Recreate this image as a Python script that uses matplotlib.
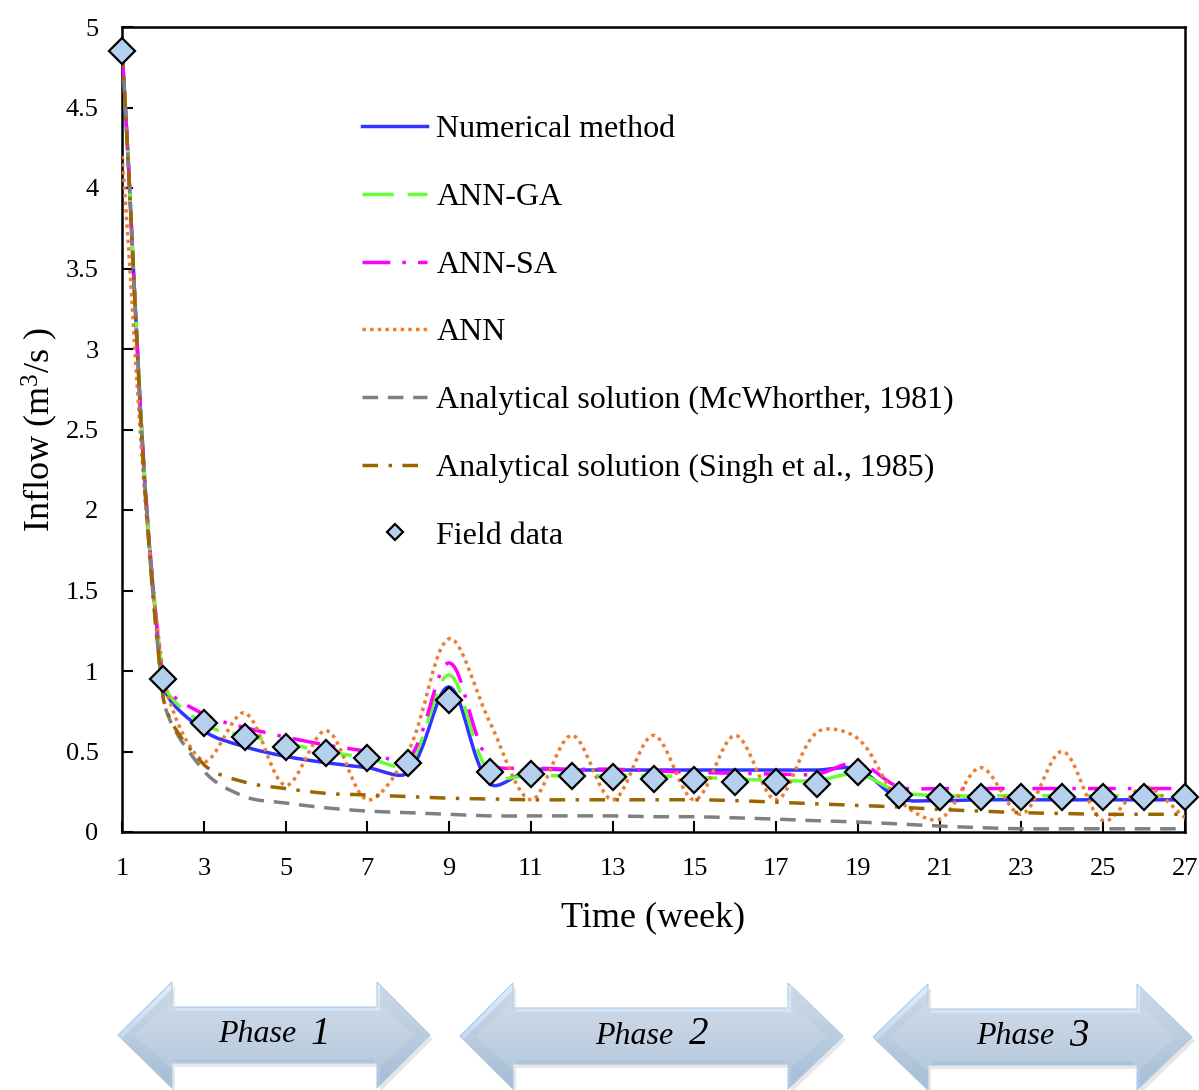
import numpy as np
import matplotlib.pyplot as plt
from matplotlib.path import Path
from matplotlib.patches import PathPatch, Polygon
from matplotlib.lines import Line2D

# weekly values
weeks = list(range(1, 28))

field_data = [4.85, 0.95, 0.68, 0.59, 0.53, 0.49, 0.46, 0.43, 0.82, 0.37, 0.36, 0.35, 0.34, 0.33,
              0.32, 0.31, 0.31, 0.30, 0.37, 0.23, 0.22, 0.22, 0.22, 0.22, 0.22, 0.22, 0.22]
numerical = [4.85, 0.93, 0.63, 0.53, 0.47, 0.43, 0.40, 0.37, 0.90, 0.30, 0.385, 0.385, 0.385, 0.385,
             0.385, 0.385, 0.385, 0.385, 0.39, 0.21, 0.195, 0.20, 0.20, 0.20, 0.20, 0.20, 0.20]
ann_ga = [4.85, 0.95, 0.67, 0.60, 0.55, 0.50, 0.46, 0.42, 0.975, 0.36, 0.35, 0.35, 0.35, 0.35,
          0.34, 0.33, 0.32, 0.32, 0.36, 0.25, 0.225, 0.225, 0.225, 0.225, 0.225, 0.225, 0.225]
ann_sa = [4.85, 0.95, 0.73, 0.65, 0.59, 0.54, 0.50, 0.45, 1.05, 0.43, 0.40, 0.39, 0.39, 0.38,
          0.37, 0.365, 0.36, 0.36, 0.43, 0.28, 0.27, 0.27, 0.27, 0.27, 0.27, 0.27, 0.27]
ann = [4.2, 1.0, 0.44, 0.74, 0.29, 0.63, 0.20, 0.50, 1.20, 0.68, 0.20, 0.60, 0.20, 0.60,
       0.20, 0.60, 0.20, 0.62, 0.58, 0.20, 0.08, 0.40, 0.11, 0.50, 0.07, 0.28, 0.09]
mcwhorther = [4.85, 0.85, 0.38, 0.22, 0.18, 0.15, 0.13, 0.12, 0.11, 0.10, 0.10, 0.10, 0.10, 0.095,
              0.095, 0.088, 0.08, 0.07, 0.062, 0.05, 0.037, 0.027, 0.02, 0.02, 0.02, 0.02, 0.02]
singh = [4.85, 0.85, 0.42, 0.31, 0.27, 0.24, 0.23, 0.22, 0.21, 0.205, 0.20, 0.20, 0.20, 0.20,
         0.20, 0.195, 0.185, 0.175, 0.165, 0.155, 0.14, 0.13, 0.12, 0.115, 0.11, 0.11, 0.11]

labels = ['Numerical method', 'ANN-GA', 'ANN-SA', 'ANN',
          'Analytical solution (McWhorther, 1981)',
          'Analytical solution (Singh et al., 1985)', 'Field data']
phase_names = ['1', '2', '3']

plt.rcParams['font.family'] = ['Liberation Serif', 'DejaVu Serif']
plt.rcParams['mathtext.fontset'] = 'custom'
plt.rcParams['mathtext.rm'] = 'Liberation Serif'
plt.rcParams['mathtext.it'] = 'Liberation Serif:italic'

W, H = 1199, 1090
fig = plt.figure(figsize=(W / 100, H / 100), dpi=100)
ax = fig.add_axes([122 / W, 1 - 832 / H, (1185 - 122) / W, (832 - 27) / H])
ax.set_xlim(1, 27)
ax.set_ylim(0, 5)


def smooth_path(xs, ys, f=1 / 3):
    # excel-like smoothed line, control points computed in screen space
    pts = ax.transData.transform(np.column_stack([xs, ys]))
    n = len(pts)
    verts = [pts[0]]
    codes = [Path.MOVETO]
    for i in range(n - 1):
        p0 = pts[max(i - 1, 0)]
        p1 = pts[i]
        p2 = pts[i + 1]
        p3 = pts[min(i + 2, n - 1)]
        d01 = np.hypot(*(p1 - p0))
        d12 = np.hypot(*(p2 - p1))
        d23 = np.hypot(*(p3 - p2))
        w1 = d12 / (d01 + d12) if d01 > 0 else 1.0
        w2 = d12 / (d12 + d23) if d23 > 0 else 1.0
        c1 = p1 + (p2 - p0) * f * w1
        c2 = p2 - (p3 - p1) * f * w2
        verts += [c1, c2, p2]
        codes += [Path.CURVE4] * 3
    verts = ax.transData.inverted().transform(np.array(verts))
    return Path(verts, codes)


LW = 2.5
styles = [
    ('#3333ff', '-'),
    ('#66ff33', (0, (9, 4))),
    ('#ff00ff', (0, (8, 3.5, 1, 3.5))),
    ('#ed7d31', (0, (1, 1.2))),
    ('#808080', (0, (4.5, 2.8))),
    ('#9c6500', (0, (4.5, 3, 1, 3))),
]
series = [numerical, ann_ga, ann_sa, ann, mcwhorther, singh]

handles = []
for k, (vals, (col, ls)) in enumerate(zip(series, styles)):
    patch = PathPatch(smooth_path(weeks, vals), fill=False, edgecolor=col, lw=LW,
                      linestyle=ls, zorder=3 + k * 0.1)
    ax.add_patch(patch)
    handles.append(Line2D([], [], color=col, lw=LW, linestyle=ls))

ax.plot(weeks, field_data, 'D', ms=13, mfc='#b4d0ec', mec='black', mew=1.6,
        clip_on=False, zorder=10)
handles.append(Line2D([], [], ls='none', marker='D', ms=13, mfc='#b4d0ec',
                      mec='black', mew=1.6))

ax.set_xticks(range(1, 28, 2))
ax.set_yticks(np.arange(0, 5.01, 0.5))
ax.set_yticklabels(['{:g}'.format(v) for v in np.arange(0, 5.01, 0.5)])
ax.tick_params(direction='in', length=8, width=1.5, labelsize=19)
ax.tick_params(axis='x', pad=19)
ax.tick_params(axis='y', pad=17)
for s in ax.spines.values():
    s.set_linewidth(1.8)

ax.set_xlabel('Time (week)', fontsize=26, labelpad=15)
ax.set_ylabel('Inflow (m$^{3}$/s )', fontsize=26, labelpad=4)

ax.legend(handles, labels, loc='upper left', frameon=False, fontsize=23,
          bbox_to_anchor=(362 / W, 1 - 115 / H), bbox_transform=fig.transFigure,
          borderaxespad=0, borderpad=0, handlelength=2.05, handletextpad=0.28,
          labelspacing=1.2, markerscale=0.66)

# phase arrows below the chart, drawn in pixel space
ov = fig.add_axes([0, 0, 1, 1], zorder=5)
ov.set_xlim(0, W)
ov.set_ylim(H, 0)
ov.axis('off')
ov.patch.set_alpha(0)

arrows = [
    (118, 172, 377, 430, 1035),
    (460, 513, 788, 843, 1036),
    (873, 928, 1137, 1192, 1037),
]
grad = np.linspace(0, 1, 256)[:, None]
top_c = np.array([0.88, 0.93, 0.99])
mid_c = np.array([0.77, 0.86, 0.96])
bot_c = np.array([0.65, 0.78, 0.91])
rgb = np.where(grad[..., None] < 0.5,
               top_c + (mid_c - top_c) * (grad[..., None] / 0.5),
               mid_c + (bot_c - mid_c) * ((grad[..., None] - 0.5) / 0.5))
rgb = np.repeat(rgb, 2, axis=1)

for (tl, bl, br, tr, yc), name in zip(arrows, phase_names):
    hh, sh = 53, 28
    pts = [(tl, yc), (bl, yc - hh), (bl, yc - sh), (br, yc - sh), (br, yc - hh),
           (tr, yc), (br, yc + hh), (br, yc + sh), (bl, yc + sh), (bl, yc + hh)]
    shadow = Polygon([(x + 3, y + 4) for x, y in pts], closed=True, fc='#a0a0a0',
                     ec='none', alpha=0.25)
    ov.add_patch(shadow)
    poly = Polygon(pts, closed=True, fc='none', ec='#b0cae3', lw=0.8)
    ov.add_patch(poly)
    im = ov.imshow(rgb, extent=(tl, tr, yc + hh, yc - hh), origin='upper',
                   aspect='auto', interpolation='bilinear')
    im.set_clip_path(poly)
    # bevel on the arrow heads
    ins = 10
    inner = [(tl + ins * 1.6, yc), (bl + ins * 0.3, yc - hh + ins * 1.6), (bl + ins * 0.3, yc - sh + 4),
             (br - ins * 0.3, yc - sh + 4), (br - ins * 0.3, yc - hh + ins * 1.6),
             (tr - ins * 1.6, yc), (br - ins * 0.3, yc + hh - ins * 1.6), (br - ins * 0.3, yc + sh - 4),
             (bl + ins * 0.3, yc + sh - 4), (bl + ins * 0.3, yc + hh - ins * 1.6)]
    ov.add_patch(Polygon(inner, closed=True, fc='white', ec='#c3d7eb', lw=0.6, alpha=0.12))
    cx = (tl + tr) / 2
    ov.text(cx + 22, yc, 'Phase', fontsize=23, style='italic', ha='right', va='center')
    ov.text(cx + 37, yc - 1, name, fontsize=28, style='italic', ha='left', va='center')

ov.set_xlim(0, W)
ov.set_ylim(H, 0)

fig.savefig('out.png', dpi=100)
